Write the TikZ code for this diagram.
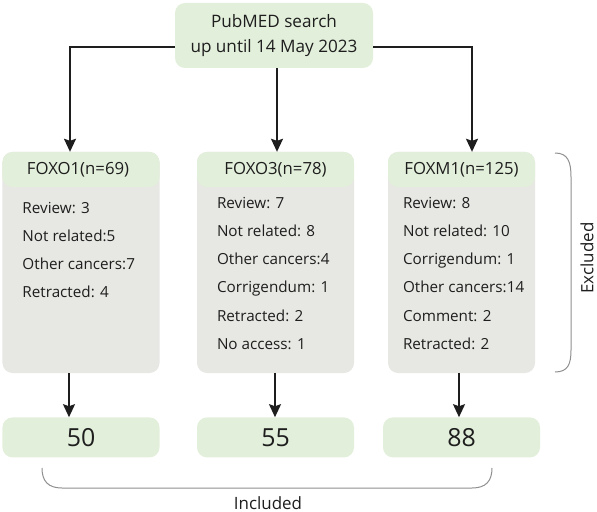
\documentclass[tikz,border=0pt]{standalone}
\usepackage{fontspec}
\setmainfont{Open Sans}
\usetikzlibrary{arrows.meta,positioning}
\definecolor{headgreen}{HTML}{E2EFDA}
\definecolor{bodygray}{HTML}{E7E7E3}
\definecolor{inkgray}{HTML}{1E1E1E}
\definecolor{bracegray}{HTML}{8F8F8F}
\tikzset{
  searchbox/.style={fill=headgreen, rounded corners=10bp, minimum width=198bp,
    minimum height=65bp, align=center, text=inkgray,
    font=\fontsize{17.2}{25}\selectfont},
  listbox/.style={fill=bodygray, rounded corners=10bp, minimum height=221bp,
    inner sep=0pt,
    path picture={\fill[headgreen] (path picture bounding box.north west)
      rectangle ([yshift=-35bp]path picture bounding box.north east);}},
  headtext/.style={text=inkgray, inner sep=0pt, font=\fontsize{16.8}{20}\selectfont},
  itemtext/.style={anchor=west, text=inkgray, inner sep=0pt, text height=12bp,
    text depth=1.2bp, font=\fontsize{15.3}{18}\selectfont},
  resbox/.style={fill=headgreen, rounded corners=10bp, minimum width=157bp,
    minimum height=40bp, text=inkgray, font=\fontsize{25}{30}\selectfont},
  flow/.style={line width=1.6bp, draw=inkgray, -{Stealth[length=13bp,width=12bp,inset=2bp]}},
  brace/.style={draw=bracegray, line width=1bp},
  bracetext/.style={text=inkgray, font=\fontsize{17}{20}\selectfont}
}
\begin{document}
\begin{tikzpicture}[x=1bp,y=-1bp]
  \useasboundingbox (0,0) rectangle (597,512);
  % search
  \node[searchbox] (search) at (274,35.5) {PubMED search\\up until 14 May 2023};
  % three genes
  \node[listbox, minimum width=157bp] (foxo1) at (81,262.5) {};
  \node[listbox, minimum width=157bp] (foxo3) at (275.5,262.5) {};
  \node[listbox, minimum width=147bp] (foxm1) at (461.5,262.5) {};
  \node[headtext] (foxo1head) at ([xshift=-3bp, yshift=-18bp]foxo1.north) {FOXO1(n=69)};
  \node[headtext] (foxo3head) at ([yshift=-18bp]foxo3.north) {FOXO3(n=78)};
  \node[headtext] (foxm1head) at ([yshift=-18bp]foxm1.north) {FOXM1(n=125)};
  \foreach \txt [count=\i] in {Review: 3, Not related:5, Other cancers:7, Retracted: 4}{
    \node[itemtext] (foxo1item\i) at ([xshift=20bp, yshift={-56bp-(\i-1)*28bp}]foxo1.north west) {\txt};
  }
  \foreach \txt [count=\i] in {Review: 7, Not related: 8, Other cancers:4, Corrigendum: 1, Retracted: 2, No access: 1}{
    \node[itemtext] (foxo3item\i) at ([xshift=20bp, yshift={-51bp-(\i-1)*28.2bp}]foxo3.north west) {\txt};
  }
  \foreach \txt [count=\i] in {Review: 8, Not related: 10, Corrigendum: 1, Other cancers:14, Comment: 2, Retracted: 2}{
    \node[itemtext] (foxm1item\i) at ([xshift=15bp, yshift={-51bp-(\i-1)*28.2bp}]foxm1.north west) {\txt};
  }
  % results
  \node[resbox, below=44bp of foxo1] (res1) {50};
  \node[resbox, below=44bp of foxo3] (res3) {55};
  \node[resbox, below=44bp of foxm1] (resm1) {88};
  % arrows
  \draw[flow] ([yshift=-11.5bp]search.west) -| ([xshift=-11bp]foxo1.north);
  \draw[flow] ([xshift=3bp]search.south) -- ([xshift=1.5bp]foxo3.north);
  \draw[flow] ([yshift=-11.5bp]search.east) -| ([xshift=10.5bp]foxm1.north);
  \draw[flow] ([xshift=-12bp]foxo1.south) -- ([xshift=-12bp]res1.north);
  \draw[flow] ([xshift=-0.5bp]foxo3.south) -- ([xshift=-0.5bp]res3.north);
  \draw[flow] ([xshift=-2.5bp]foxm1.south) -- ([xshift=-2.5bp]foxm1.south |- resm1.north);
  % brackets
  \draw[brace] (555,153) .. controls (568,153) and (571,162) .. (571,177)
    -- (571,350) .. controls (571,364) and (568,372) .. (555,372);
  \node[bracetext, rotate=90] (excl) at (587,258) {Excluded};
  \draw[brace] (42,468) .. controls (42,481) and (48,488) .. (62,488)
    -- (472,488) .. controls (486,488) and (492,481) .. (492,468);
  \node[bracetext] (incl) at (268,503) {Included};
\end{tikzpicture}
\end{document}
